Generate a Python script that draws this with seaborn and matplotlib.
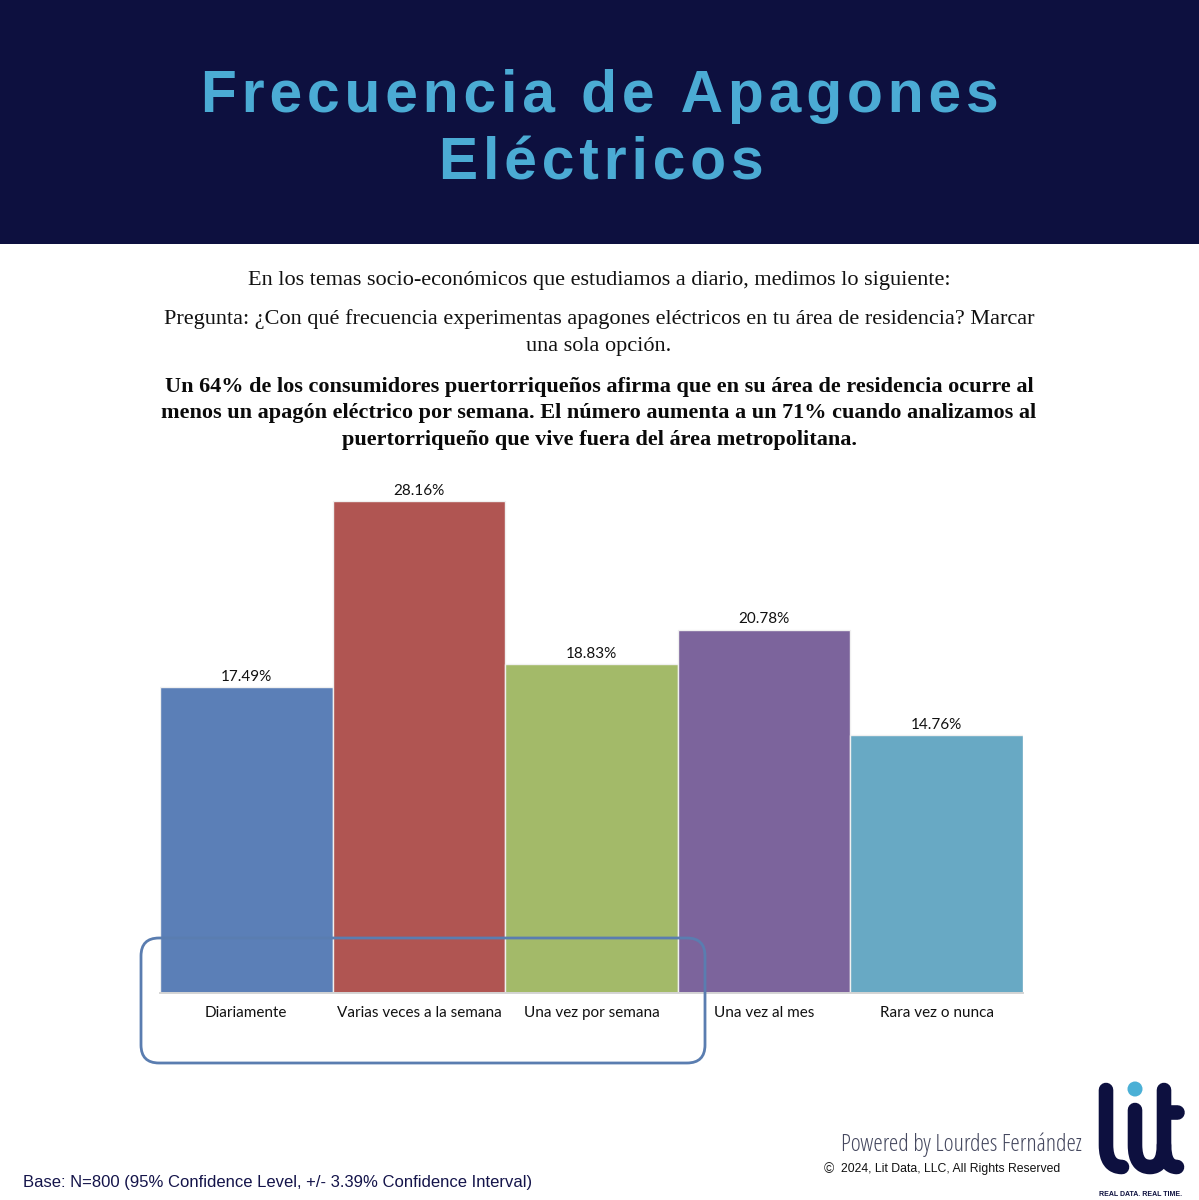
import matplotlib
matplotlib.use("Agg")
import matplotlib.pyplot as plt
import seaborn as sns
import pandas as pd
from matplotlib.patches import FancyBboxPatch, Rectangle, Circle, PathPatch
from matplotlib.path import Path

categories = ["Diariamente", "Varias veces a la semana", "Una vez por semana", "Una vez al mes", "Rara vez o nunca"]
values = [17.49, 28.16, 18.83, 20.78, 14.76]
colors = ["#5B7FB7", "#B05552", "#A3BA69", "#7C649C", "#68A9C4"]
labels = ["17.49%", "28.16%", "18.83%", "20.78%", "14.76%"]

W, H = 1199, 1200
sns.set_theme(style="white")
plt.rcParams['font.family'] = ['Lato', 'DejaVu Sans']
fig = plt.figure(figsize=(W/100, H/100), dpi=100, facecolor="white")

bg = fig.add_axes([0, 0, 1, 1], zorder=0)
bg.set_xlim(0, W); bg.set_ylim(H, 0); bg.axis("off")
bg.add_patch(Rectangle((0, 0), W, 244, fc="#0D103F", ec="none"))

def spaced(s):
    return "\u200a".join(s)

title_font = ["Liberation Sans", "DejaVu Sans"]
bg.text(600, 97, spaced("Frecuencia de Apagones"), color="#4BABD4", fontsize=42.3, fontweight="bold", family=title_font, ha="center", va="center")
bg.text(601, 164, spaced("Eléctricos"), color="#4BABD4", fontsize=42.3, fontweight="bold", family=title_font, ha="center", va="center")

serif = ["Liberation Serif", "DejaVu Serif"]
body = 16.0
bg.text(599, 280, "En los temas socio-económicos que estudiamos a diario, medimos lo siguiente:", fontsize=body, family=serif, ha="center", va="center", color="#111111")
bg.text(599, 319, "Pregunta: ¿Con qué frecuencia experimentas apagones eléctricos en tu área de residencia? Marcar", fontsize=body, family=serif, ha="center", va="center", color="#111111")
bg.text(599, 346, "una sola opción.", fontsize=body, family=serif, ha="center", va="center", color="#111111")
for y, s in zip([387, 413, 440], ["Un 64% de los consumidores puertorriqueños afirma que en su área de residencia ocurre al",
                                  "menos un apagón eléctrico por semana. El número aumenta a un 71% cuando analizamos al",
                                  "puertorriqueño que vive fuera del área metropolitana."]):
    bg.text(599, y, s, fontsize=16, fontweight="bold", family=serif, ha="center", va="center", color="#0A0A0A")

left, right, base, top = 160, 1023, 993, 501
per = (base - top) / max(values)
ax_top = 470
ax = fig.add_axes([left/W, 1 - base/H, (right-left)/W, (base-ax_top)/H], zorder=1)
ax.patch.set_alpha(0)
df = pd.DataFrame({"cat": categories, "val": values})
sns.barplot(data=df, x="cat", y="val", hue="cat", palette=colors, legend=False, width=1.0, ax=ax,
            edgecolor="#F0F0F0", linewidth=1.0, saturation=1)
ax.set_xlim(-0.5, 4.5)
ax.set_ylim(0, (base-ax_top)/per)
ax.set_xlabel(""); ax.set_ylabel(""); ax.set_yticks([])
sns.despine(ax=ax, left=True, bottom=False)
ax.spines["bottom"].set_color("#D4D4D4"); ax.spines["bottom"].set_linewidth(1.4)
ax.tick_params(axis="x", length=0, pad=17, labelsize=11, labelcolor="#111111")
for t in ax.get_xticklabels():
    t.set_verticalalignment("baseline")
for c, lab in zip(ax.containers, labels):
    ax.bar_label(c, labels=[lab], padding=2.5, fontsize=11, color="#111111")

fg = fig.add_axes([0, 0, 1, 1], zorder=2)
fg.set_xlim(0, W); fg.set_ylim(H, 0); fg.axis("off"); fg.patch.set_alpha(0)
box = FancyBboxPatch((141, 938), 564, 125, boxstyle="round,pad=0,rounding_size=18",
                     fc="none", ec="#5A7DB0", lw=2.0)
fg.add_patch(box)

navy = "#0D103F"
M, L, C = Path.MOVETO, Path.LINETO, Path.CURVE3
def stroke(pts, codes):
    fg.add_patch(PathPatch(Path(pts, codes), fc="none", ec=navy, lw=10.5, capstyle="round", joinstyle="round"))
stroke([(1106, 1090), (1106, 1145), (1106, 1167), (1122, 1167)], [M, L, C, C])
stroke([(1135, 1110), (1135, 1145), (1135, 1167), (1150, 1167), (1164, 1167), (1164, 1145)], [M, L, C, C, C, C])
stroke([(1164, 1090), (1164, 1145), (1164, 1167), (1177, 1167)], [M, L, C, C])
stroke([(1164, 1112), (1177, 1112)], [M, L])
fg.add_patch(Circle((1135, 1089), 7.5, fc="#4BB0D6", ec="none"))
fg.text(1141, 1194, "REAL DATA. REAL TIME.", fontsize=5, fontweight="bold", color=navy, family=["Liberation Sans"], ha="center", va="center")
fg.text(961, 1145, "Powered by Lourdes Fernández", fontsize=17.2, color="#45485F", family=["Open Sans", "DejaVu Sans"], ha="center", va="center", stretch="condensed")
fg.text(829, 1169, "©", fontsize=10, color="#222222", family=["Liberation Sans"], ha="center", va="center")
fg.text(841, 1169, "2024, Lit Data, LLC, All Rights Reserved", fontsize=8.8, color="#111111", family=["Liberation Sans"], ha="left", va="center")
fg.text(23, 1182, "Base: N=800 (95% Confidence Level, +/- 3.39% Confidence Interval)", fontsize=12, color="#14144A", family=["Liberation Sans"], ha="left", va="center")

fig.savefig("out.png", dpi=100, facecolor="white")
